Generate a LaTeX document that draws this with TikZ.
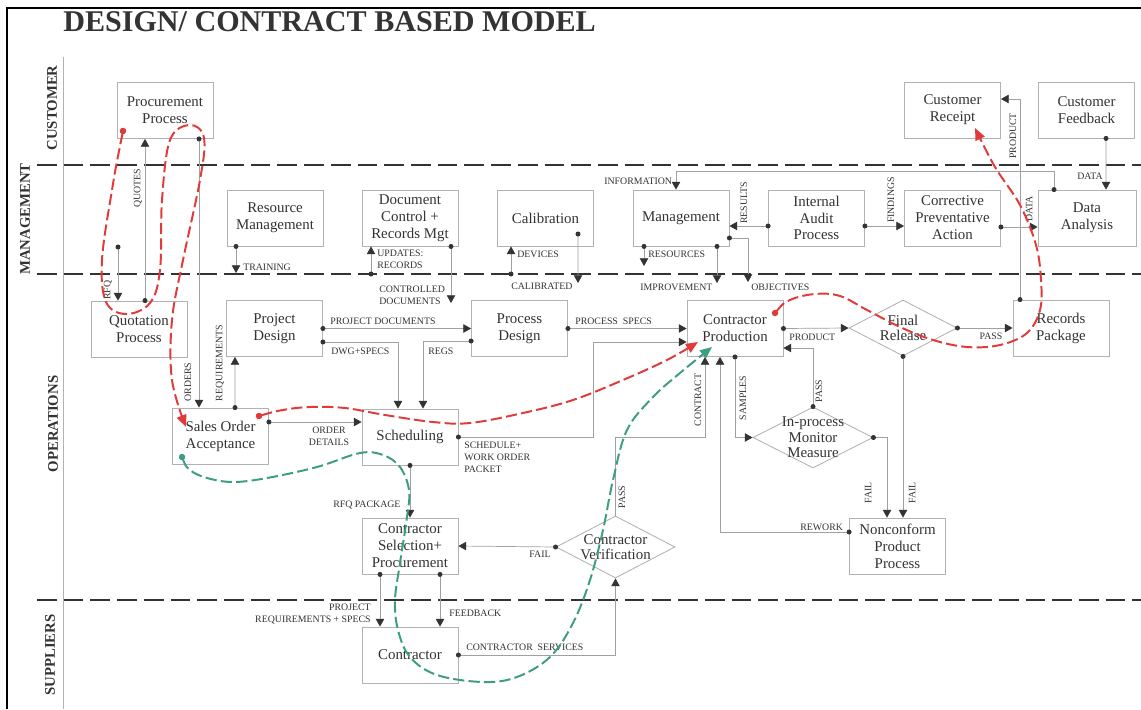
\documentclass[tikz,border=0pt]{standalone}
\usepackage{fontspec}
\setmainfont{Liberation Serif}
\usepackage{tikz}
\usetikzlibrary{arrows.meta,
                calc,
                positioning,
                shapes.geometric}
\definecolor{boxgray}{HTML}{B2B2B2}
\definecolor{linegray}{HTML}{A0A0A0}
\definecolor{inkgray}{HTML}{333333}
\definecolor{flowred}{HTML}{E23A3A}
\definecolor{flowgreen}{HTML}{3C9C84}
\tikzstyle{box} = [draw=boxgray, line width=0.6pt, minimum width=2.4cm, minimum height=1.4cm, align=center, text=inkgray, font=\fontsize{10.6}{12}\selectfont]
\tikzstyle{boxtext} = [align=center, text=inkgray, font=\fontsize{10.6}{11}\selectfont]
\tikzstyle{check} = [diamond, draw=boxgray, line width=0.6pt, inner sep=0pt]
\tikzstyle{tag} = [text=inkgray, font=\fontsize{7}{8.5}\selectfont, inner sep=0pt]
\tikzstyle{vtag} = [tag, rotate=90]
\tikzstyle{lane} = [text=inkgray, font=\fontsize{10.5}{12}\selectfont\bfseries, rotate=90]
\tikzstyle{link} = [draw=linegray, line width=0.5pt, {Circle[length=3.5pt,sep=-1.75pt,color=inkgray]}-{Triangle[length=5.5pt,width=6pt,color=inkgray]}]
\tikzstyle{plainlink} = [draw=linegray, line width=0.5pt, -{Triangle[length=5.5pt,width=6pt,color=inkgray]}]
\tikzstyle{flow} = [line width=1.4pt, dash pattern=on 8pt off 3pt, {Circle[length=4.5pt,sep=-2.25pt]}-{Triangle[length=8.5pt,width=7pt]}]
\tikzstyle{laneline} = [line width=2.1pt, inkgray, dash pattern=on 14pt off 5pt]

\begin{document}
\begin{tikzpicture}[x=0.025cm, y=-0.025cm]
    \useasboundingbox (0,0) rectangle (1141,709);
    \fill[white] (0,0) rectangle (1141,709);

    % frame, swim lanes
    \draw[line width=1pt, black] (7,709) -- (7,8) -- (1141,8);
    \draw[boxgray, line width=0.6pt] (63,57) -- (63,709);
    \coordinate (lane1) at (37,165);
    \coordinate (lane2) at (37,274);
    \coordinate (lane3) at (37,600);
    \foreach \l in {lane1,lane2,lane3}
        \draw[laneline] (\l) -- ++(1104,0);

    \node[text=inkgray, font=\fontsize{21.4}{24}\selectfont\bfseries, anchor=base west, inner sep=0pt] (ttl) at (63,32) {DESIGN/ CONTRACT BASED MODEL};
    \node[lane] (lcus) at (52,108) {CUSTOMER};
    \node[lane] (lman) at (25,219) {MANAGEMENT};
    \node[lane] (lops) at (53,424) {OPERATIONS};
    \node[lane] (lsup) at (50,655) {SUPPLIERS};

    % customer
    \node[box] (pp) at (165,110.5) {Procurement\\Process};
    \node[box] (crc) at (952.5,110) {Customer\\Receipt};
    \node[box] (cfb) at (1086.5,110) {Customer\\Feedback};
    % management
    \node[box] (rm) at (275,218) {Resource\\Management};
    \node[box] (dc) at (410,218) {Document\\Control +\\Records Mgt};
    \node[box] (cal) at (545.5,218) {Calibration};
    \node[box] (mgt) at (681,218) {Management};
    \node[box] (iap) at (816.5,218) {Internal\\Audit\\Process};
    \node[box] (cpa) at (952.5,218) {Corrective\\Preventative\\Action};
    \node[box, minimum width=2.45cm] (da) at (1087,218) {Data\\Analysis};
    % operations
    \node[box] (qp) at (139,329) {Quotation\\Process};
    \node[box] (pd) at (274.5,328.5) {Project\\Design};
    \node[box] (psd) at (519.5,328.5) {Process\\Design};
    \node[box] (cp) at (735,328.5) {Contractor\\Production};
    \node[check, minimum width=2.7cm, minimum height=1.4cm, label={[boxtext]center:{Final\\Release}}] (fr) at (903,328) {};
    \node[box] (rp) at (1061,328) {Records\\Package};
    \node[box] (soa) at (220.5,436) {Sales Order\\Acceptance};
    \node[box] (sch) at (410,437) {Scheduling};
    \node[check, minimum width=3cm, minimum height=1.525cm, label={[boxtext]center:{In-process\\Monitor\\Measure}}] (ipm) at (813,437.5) {};
    \node[box] (ncp) at (897.5,546) {Nonconform\\Product\\Process};
    \node[box] (csp) at (410,546) {Contractor\\Selection+\\Procurement};
    \node[check, minimum width=2.975cm, minimum height=1.55cm, label={[boxtext]center:{Contractor\\Verification}}] (cv) at (615.5,547) {};
    % suppliers
    \node[box] (con) at (410,655) {Contractor};

    % free ends
    \coordinate (rfq) at (118,247);
    \coordinate (cdoc) at (451,303);
    \coordinate (calb) at (578,283);
    \coordinate (mres) at (644,266);
    \coordinate (mimp) at (717,283);
    \coordinate (mobj) at (748,282);

    \draw[link] (rfq) -- (rfq |- qp.north);
    \draw[link] ($(qp.north)+(6,0)$) -- ($(pp.south)+(-20,0)$);
    \draw[link] ($(pp.south)+(34,0)$) -- ($(soa.north)+(-21.5,0)$);
    \draw[link] ($(soa.north)+(14.5,0)$) -- ($(pd.south)+(-39.5,0)$);
    \draw[link] ($(rm.south)+(-39,0)$) -- ($(rm.south |- lane2)+(-39,-1)$);
    \draw[link] ($(dc.south |- lane2)+(-39,0)$) -- ($(dc.south)+(-39,0)$);
    \draw[link] ($(dc.south)+(41,0)$) -- (cdoc);
    \draw[link] ($(cal.south |- lane2)+(-34.5,0)$) -- ($(cal.south)+(-34.5,0)$);
    \draw[link] ($(cal.center)+(32.5,16)$) -- (calb);
    \draw[link] ($(mgt.south)+(-37,0)$) -- (mres);
    \draw[link] ($(mgt.south)+(36,0)$) -- (mimp);
    \draw[link] ($(mgt.east)+(0,20)$) -| (mobj);
    \draw[link] ($(da.north)+(-33,0)$) -- ++(0,-18) -| ($(mgt.north)+(-5,0)$);
    \draw[link] ($(iap.west)+(0,8)$) -- ($(mgt.east)+(0,8)$);
    \draw[link] ($(iap.east)+(0,8)$) -- ($(cpa.west)+(0,8)$);
    \draw[link] ($(cpa.east)+(0,9)$) -- ($(da.west)+(0,9)$);
    \draw[link] ($(cfb.south)+(19.5,0)$) -- ($(da.north)+(19,0)$);
    \draw[link] ($(rp.north)+(-41,0)$) |- ($(crc.east)+(0,-11)$);
    \draw[link] (pd.east) -- (psd.west);
    \draw[link] ($(pd.east)+(0,13.5)$) -| ($(sch.north)+(-12,0)$);
    \draw[link] ($(psd.west)+(0,12.5)$) -| ($(sch.north)+(13,0)$);
    \draw[link] (psd.east) -- (cp.west);
    \draw[link] (sch.east) -- ++(135,0) |- ($(cp.west)+(0,13.5)$);
    \draw[link] ($(soa.east)+(0,-14)$) -- ($(sch.west)+(0,-15)$);
    \draw[plainlink] (cv.north) -- ++(0,-78) -| ($(cp.south)+(-30,0)$);
    \draw[link] ($(ncp.west)+(0,-14)$) -| ($(cp.south)+(-15,0)$);
    \draw[link] (cp.south) |- (ipm.west);
    \draw[link] (ipm.north) |- ($(cp.east)+(0,19.5)$);
    \draw[link] (ipm.east) -| ($(ncp.north)+(-10.5,0)$);
    \draw[link] (fr.south) -- (fr.south |- ncp.north);
    \draw[link] (fr.east) -- (rp.west);
    \draw[link] (cp.east) -- (fr.west);
    \draw[link] (cv.west) -- (csp.east);
    \draw[link] (sch.south) -- (csp.north);
    \draw[link] ($(csp.south)+(-30,0)$) -- ($(con.north)+(-30,0)$);
    \draw[link] ($(csp.south)+(30,0)$) -- ($(con.north)+(30,0)$);
    \draw[link] (con.east) -| (cv.south);

    % connector tags
    \node[vtag] (trfq) at (108,290) {RFQ};
    \node[vtag] (tquo) at (138,188) {QUOTES};
    \node[vtag] (tord) at (188,382) {ORDERS};
    \node[vtag] (treq) at (220,363) {REQUIREMENTS};
    \node[tag, anchor=west] (ttra) at (243,267) {TRAINING};
    \node[tag, anchor=west, align=left] (tupd) at (377,259) {UPDATES:\\RECORDS};
    \node[tag, anchor=west, align=left] (tcon) at (379,295) {CONTROLLED\\DOCUMENTS};
    \node[tag, anchor=west] (tdev) at (517,254) {DEVICES};
    \node[tag, anchor=west] (tcal) at (511,286) {CALIBRATED};
    \node[tag, anchor=west] (tres) at (648,254) {RESOURCES};
    \node[tag, anchor=west] (timp) at (640,287) {IMPROVEMENT};
    \node[tag, anchor=west] (tobj) at (751,287) {OBJECTIVES};
    \node[tag, anchor=west] (tinf) at (604,181) {INFORMATION};
    \node[vtag] (trsl) at (744,203) {RESULTS};
    \node[vtag] (tfnd) at (891,200) {FINDINGS};
    \node[vtag] (tdat) at (1029,209) {DATA};
    \node[tag] (tdfb) at (1090,176) {DATA};
    \node[vtag] (tprc) at (1013,136) {PRODUCT};
    \node[tag, anchor=west] (tpjd) at (330,321) {PROJECT DOCUMENTS};
    \node[tag, anchor=west] (tdwg) at (331,351) {DWG+SPECS};
    \node[tag, anchor=west] (treg) at (428,351) {REGS};
    \node[tag, anchor=west] (tpsp) at (575,321) {PROCESS\ \ SPECS};
    \node[tag, anchor=west, align=left] (tsch) at (464,457) {SCHEDULE+\\WORK ORDER\\PACKET};
    \node[tag, align=center] (todt) at (329,436) {ORDER\\DETAILS};
    \node[vtag] (tctr) at (698,400) {CONTRACT};
    \node[vtag] (tsmp) at (743,398) {SAMPLES};
    \node[vtag] (tpsi) at (819,391) {PASS};
    \node[vtag] (tpsc) at (622,497) {PASS};
    \node[tag, anchor=west] (trwk) at (800,527) {REWORK};
    \node[vtag] (tfli) at (868,493) {FAIL};
    \node[vtag] (tflr) at (912,493) {FAIL};
    \node[tag] (tpsr) at (991,336) {PASS};
    \node[tag, anchor=west] (tprd) at (789,337) {PRODUCT};
    \node[tag] (tflc) at (540,554) {FAIL};
    \node[tag, anchor=west] (trfp) at (333,505) {RFQ PACKAGE};
    \node[tag, anchor=east, align=right] (tprq) at (371,614) {PROJECT\\REQUIREMENTS + SPECS};
    \node[tag, anchor=west] (tfdb) at (449,613) {FEEDBACK};
    \node[tag, anchor=west] (tsvc) at (466,647) {CONTRACTOR\ \ SERVICES};

    % order flows
    \coordinate (r1) at (123,131);
    \coordinate (r2) at (259,416);
    \coordinate (r3) at (775,313);
    \coordinate (g1) at (182,457);
    \draw[flow, flowred] plot[smooth, tension=0.6] coordinates {(r1) (112,190) (102,260) (106,302) (126,314) (150,303) (160,270) (162,200) (170,140) (190,125) (204,138) (200,180) (183,260) (172,320) (172,380) (186,427)};
    \draw[flow, flowred] plot[smooth, tension=0.6] coordinates {(r2) (283,410) (310,407) (345,408) (385,415) (433,422) (470,423) (523,413) (573,400) (623,380) (667,360) (698,342)};
    \draw[flow, flowred] plot[smooth, tension=0.6] coordinates {(r3) (790,300) (815,294) (840,296) (867,310) (900,327) (933,340) (967,347) (1000,345) (1027,333) (1040,310) (1041,280) (1036,245) (1020,205) (995,167) (975,128)};
    \draw[flow, flowgreen] plot[smooth, tension=0.6] coordinates {(g1) (190,470) (207,478) (233,482) (267,478) (317,467) (360,453) (383,455) (400,467) (409,490) (407,517) (400,563) (395,600) (398,630) (410,657) (437,675) (483,682) (517,677) (550,657) (573,623) (590,580) (603,530) (613,480) (627,430) (653,397) (680,373) (712,347)};
\end{tikzpicture}
\end{document}
